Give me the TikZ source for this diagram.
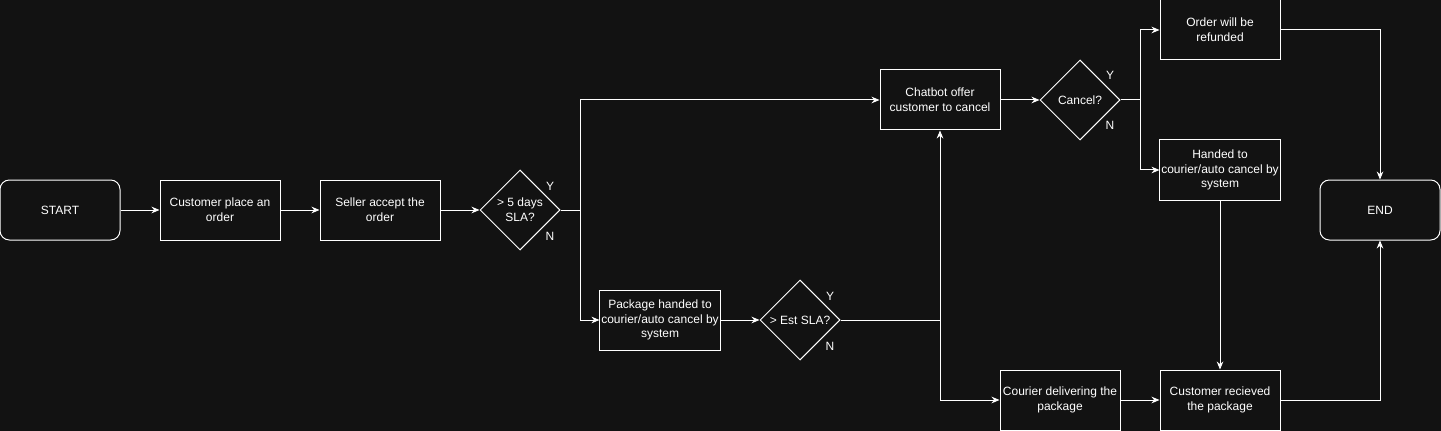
\documentclass[tikz,border=0pt]{standalone}
\usepackage{fontspec}
\setmainfont{Liberation Sans}
\usetikzlibrary{arrows.meta,shapes.geometric}
\definecolor{bgdark}{HTML}{121212}
\tikzset{
  box/.style={draw=white,fill=bgdark,line width=0.75pt,align=center,text=white,
              minimum width=90pt,minimum height=45pt,inner sep=1pt,
              font=\fontsize{9}{11}\selectfont},
  term/.style={box,rounded corners=7pt},          % 起止：圆角
  dec/.style={draw=white,fill=bgdark,line width=0.75pt,diamond,aspect=1,
              minimum width=60pt,minimum height=60pt,inner sep=0pt,align=center,
              text=white,font=\fontsize{9}{11}\selectfont},
  ar/.style={-{Stealth[length=6pt,width=5pt]},draw=white,line width=0.75pt},
  ln/.style={draw=white,line width=0.75pt},
  yn/.style={text=white,font=\fontsize{9}{11}\selectfont,inner sep=0pt}
}

\begin{document}
\begin{tikzpicture}[x=0.75pt,y=-0.75pt]
  \fill[bgdark] (0,0) rectangle (1441,431);
  \useasboundingbox (0,0) rectangle (1441,431);
  % 主线
  \node[term] (start) at (60,210) {START};
  \node[box] (place) at (220,210) {Customer place an\\order};
  \node[box] (accept) at (380,210) {Seller accept the\\order};
  \node[dec] (sla) at (520,210) {> 5 days\\SLA?};
  \node[yn] at (550,186) {Y};
  \node[yn] at (550,236) {N};
  % 分支
  \node[box] (chat) at (940,100) {Chatbot offer\\customer to cancel};
  \node[box] (pkg) at (660,320) {Package handed to\\courier/auto cancel by\\system};
  \node[dec] (est) at (800,320) {> Est SLA?};
  \node[yn] at (830,296) {Y};
  \node[yn] at (830,346) {N};
  \node[dec] (cancel) at (1080,100) {Cancel?};
  \node[yn] at (1110,75) {Y};
  \node[yn] at (1110,125) {N};
  \node[box] (refund) at (1220,30) {Order will be\\refunded};
  \node[box] (hand) at (1220,170) {Handed to\\courier/auto cancel by\\system};
  \node[box] (courier) at (1060,400) {Courier delivering the\\package};
  \node[box] (recv) at (1220,400) {Customer recieved\\the package};
  \node[term] (end) at (1380,210) {END};
  % 连接点
  \coordinate (j1) at (580,210);
  \coordinate (j2) at (940,320);
  \coordinate (j3) at (1140,100);
  % 连线
  \draw[ar] (start) -- (place);
  \draw[ar] (place) -- (accept);
  \draw[ar] (accept) -- (sla);
  \draw[ln] (sla.east) -- (j1);
  \draw[ar] (j1) |- (chat.west);
  \draw[ar] (j1) |- (pkg.west);
  \draw[ar] (pkg) -- (est);
  \draw[ln] (est.east) -- (j2);
  \draw[ar] (j2) -- (chat.south);
  \draw[ar] (j2) |- (courier.west);
  \draw[ar] (chat) -- (cancel);
  \draw[ln] (cancel.east) -- (j3);
  \draw[ar] (j3) |- (refund.west);
  \draw[ar] (j3) |- (hand.west);
  \draw[ar] (refund.east) -| (end.north);
  \draw[ar] (hand) -- (recv);
  \draw[ar] (courier) -- (recv);
  \draw[ar] (recv.east) -| (end.south);
\end{tikzpicture}
\end{document}
